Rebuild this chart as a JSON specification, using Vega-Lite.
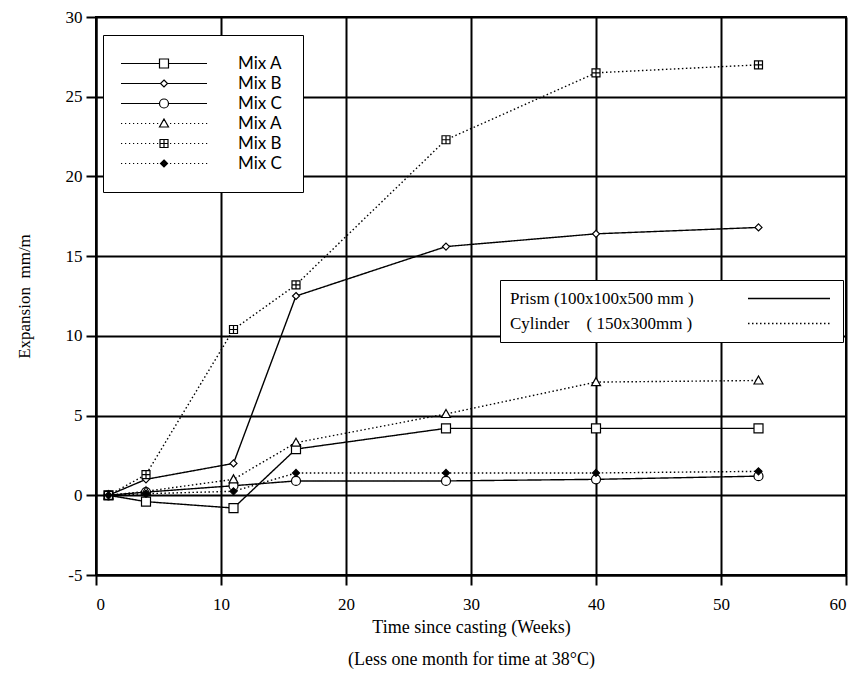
{
  "$schema": "https://vega.github.io/schema/vega-lite/v6.json",
  "autosize": "none",
  "width": 750,
  "height": 558,
  "padding": {"left": 96, "top": 17, "right": 14, "bottom": 101},
  "background": "white",
  "config": {
    "view": {"stroke": "black", "strokeWidth": 2},
    "axis": {
      "domainColor": "black", "domainWidth": 2,
      "gridColor": "black", "gridWidth": 2, "gridOpacity": 1,
      "tickColor": "black", "tickWidth": 2, "tickSize": 10,
      "labelFont": "Liberation Serif", "labelFontSize": 17, "labelColor": "black",
      "titleFont": "Liberation Serif", "titleFontSize": 18, "titleFontWeight": "normal", "titleColor": "black"
    }
  },
  "data": {
    "values": [
      {"week": 1, "exp": 0, "series": "P-A", "type": "Prism"},
      {"week": 4, "exp": -0.4, "series": "P-A", "type": "Prism"},
      {"week": 11, "exp": -0.8, "series": "P-A", "type": "Prism"},
      {"week": 16, "exp": 2.9, "series": "P-A", "type": "Prism"},
      {"week": 28, "exp": 4.2, "series": "P-A", "type": "Prism"},
      {"week": 40, "exp": 4.2, "series": "P-A", "type": "Prism"},
      {"week": 53, "exp": 4.2, "series": "P-A", "type": "Prism"},
      {"week": 1, "exp": 0, "series": "P-B", "type": "Prism"},
      {"week": 4, "exp": 1.0, "series": "P-B", "type": "Prism"},
      {"week": 11, "exp": 2.0, "series": "P-B", "type": "Prism"},
      {"week": 16, "exp": 12.5, "series": "P-B", "type": "Prism"},
      {"week": 28, "exp": 15.6, "series": "P-B", "type": "Prism"},
      {"week": 40, "exp": 16.4, "series": "P-B", "type": "Prism"},
      {"week": 53, "exp": 16.8, "series": "P-B", "type": "Prism"},
      {"week": 1, "exp": 0, "series": "P-C", "type": "Prism"},
      {"week": 4, "exp": 0.2, "series": "P-C", "type": "Prism"},
      {"week": 11, "exp": 0.6, "series": "P-C", "type": "Prism"},
      {"week": 16, "exp": 0.9, "series": "P-C", "type": "Prism"},
      {"week": 28, "exp": 0.9, "series": "P-C", "type": "Prism"},
      {"week": 40, "exp": 1.0, "series": "P-C", "type": "Prism"},
      {"week": 53, "exp": 1.2, "series": "P-C", "type": "Prism"},
      {"week": 1, "exp": 0, "series": "C-A", "type": "Cylinder"},
      {"week": 4, "exp": 0.25, "series": "C-A", "type": "Cylinder"},
      {"week": 11, "exp": 1.0, "series": "C-A", "type": "Cylinder"},
      {"week": 16, "exp": 3.3, "series": "C-A", "type": "Cylinder"},
      {"week": 28, "exp": 5.1, "series": "C-A", "type": "Cylinder"},
      {"week": 40, "exp": 7.1, "series": "C-A", "type": "Cylinder"},
      {"week": 53, "exp": 7.2, "series": "C-A", "type": "Cylinder"},
      {"week": 1, "exp": 0, "series": "C-B", "type": "Cylinder"},
      {"week": 4, "exp": 1.3, "series": "C-B", "type": "Cylinder"},
      {"week": 11, "exp": 10.4, "series": "C-B", "type": "Cylinder"},
      {"week": 16, "exp": 13.2, "series": "C-B", "type": "Cylinder"},
      {"week": 28, "exp": 22.3, "series": "C-B", "type": "Cylinder"},
      {"week": 40, "exp": 26.5, "series": "C-B", "type": "Cylinder"},
      {"week": 53, "exp": 27.0, "series": "C-B", "type": "Cylinder"},
      {"week": 1, "exp": 0, "series": "C-C", "type": "Cylinder"},
      {"week": 4, "exp": 0.1, "series": "C-C", "type": "Cylinder"},
      {"week": 11, "exp": 0.25, "series": "C-C", "type": "Cylinder"},
      {"week": 16, "exp": 1.4, "series": "C-C", "type": "Cylinder"},
      {"week": 28, "exp": 1.4, "series": "C-C", "type": "Cylinder"},
      {"week": 40, "exp": 1.4, "series": "C-C", "type": "Cylinder"},
      {"week": 53, "exp": 1.5, "series": "C-C", "type": "Cylinder"}
    ]
  },
  "encoding": {
    "x": {
      "field": "week", "type": "quantitative",
      "scale": {"domain": [0, 60], "nice": false, "zero": false},
      "axis": {
        "values": [0, 10, 20, 30, 40, 50, 60],
        "labelPadding": 11,
        "title": ["Time since casting (Weeks)", "(Less one month for time at 38°C)"],
        "titleLineHeight": 32,
        "titlePadding": 6
      }
    },
    "y": {
      "field": "exp", "type": "quantitative",
      "scale": {"domain": [-5, 30], "nice": false, "zero": false},
      "axis": {
        "values": [-5, 0, 5, 10, 15, 20, 25, 30],
        "labelExpr": "'' + datum.value",
        "labelPadding": 4,
        "title": "Expansion\u00a0\u00a0mm/m",
        "titleFontSize": 17,
        "titlePadding": 32
      }
    }
  },
  "layer": [
    {
      "mark": {"type": "line", "color": "black", "strokeWidth": 1.4, "strokeCap": "butt"},
      "encoding": {
        "detail": {"field": "series"},
        "strokeDash": {
          "field": "type", "type": "nominal",
          "scale": {"domain": ["Prism", "Cylinder"], "range": [[1, 0], [1.5, 2.5]]},
          "legend": {
            "orient": "none", "legendX": 404, "legendY": 263,
            "title": null,
            "symbolType": "M-41,0H41", "symbolSize": 4, "symbolOffset": 270.5,
            "symbolStrokeColor": "black", "symbolStrokeWidth": 1.3,
            "labelOffset": -287.5, "labelLimit": 400,
            "labelFont": "Liberation Serif", "labelFontSize": 17, "labelColor": "black",
            "labelExpr": "datum.value == 'Prism' ? 'Prism (100x100x500 mm )' : 'Cylinder\u00a0\u00a0\u00a0\u00a0( 150x300mm )'",
            "rowPadding": 7, "padding": 10,
            "strokeColor": "black", "fillColor": "white", "cornerRadius": 0
          }
        }
      }
    },
    {
      "mark": {"type": "point", "size": 4, "stroke": "black", "strokeWidth": 1.2, "opacity": 1},
      "encoding": {
        "shape": {
          "field": "series", "type": "nominal",
          "scale": {
            "domain": ["P-A", "P-B", "P-C", "C-A", "C-B", "C-C"],
            "range": [
              "M-4.5,-4.5H4.5V4.5H-4.5Z",
              "M0,-3.5L3.5,0L0,3.5L-3.5,0Z",
              "M4.5,0A4.5,4.5,0,1,1,-4.5,0A4.5,4.5,0,1,1,4.5,0Z",
              "M0,-4.5L4.5,3.5H-4.5Z",
              "M-4,-4H4V4H-4ZM0,-4V4M-4,0H4",
              "M0,-3.5L3.5,0L0,3.5L-3.5,0Z"
            ]
          },
          "legend": null
        },
        "fill": {"condition": {"test": "datum.series == 'C-C'", "value": "black"}, "value": "white"}
      }
    },
    {
      "transform": [{"filter": "datum.week < 0"}],
      "mark": {"type": "point", "size": 4, "stroke": "black", "strokeWidth": 1.2, "opacity": 1},
      "encoding": {
        "shape": {
          "field": "series", "type": "nominal",
          "scale": {
            "domain": ["P-A", "P-B", "P-C", "C-A", "C-B", "C-C"],
            "range": [
              "M-43,0H-4.5M4.5,0H43M-4.5,-4.5H4.5V4.5H-4.5Z",
              "M-43,0H-3.5M3.5,0H43M0,-3.5L3.5,0L0,3.5L-3.5,0Z",
              "M-43,0H-4.5M4.5,0H43M4.5,0A4.5,4.5,0,1,1,-4.5,0A4.5,4.5,0,1,1,4.5,0Z",
              "M-43,0h1.2m2.8,0h1.2m2.8,0h1.2m2.8,0h1.2m2.8,0h1.2m2.8,0h1.2m2.8,0h1.2m2.8,0h1.2m2.8,0h1.2m2.8,0h1.2M6,0h1.2m2.8,0h1.2m2.8,0h1.2m2.8,0h1.2m2.8,0h1.2m2.8,0h1.2m2.8,0h1.2m2.8,0h1.2m2.8,0h1.2m2.8,0h1.2M0,-4.5L4.5,3.5H-4.5Z",
              "M-43,0h1.2m2.8,0h1.2m2.8,0h1.2m2.8,0h1.2m2.8,0h1.2m2.8,0h1.2m2.8,0h1.2m2.8,0h1.2m2.8,0h1.2m2.8,0h1.2M6,0h1.2m2.8,0h1.2m2.8,0h1.2m2.8,0h1.2m2.8,0h1.2m2.8,0h1.2m2.8,0h1.2m2.8,0h1.2m2.8,0h1.2m2.8,0h1.2M-4,-4H4V4H-4ZM0,-4V4M-4,0H4",
              "M-43,0h1.2m2.8,0h1.2m2.8,0h1.2m2.8,0h1.2m2.8,0h1.2m2.8,0h1.2m2.8,0h1.2m2.8,0h1.2m2.8,0h1.2m2.8,0h1.2M6,0h1.2m2.8,0h1.2m2.8,0h1.2m2.8,0h1.2m2.8,0h1.2m2.8,0h1.2m2.8,0h1.2m2.8,0h1.2m2.8,0h1.2m2.8,0h1.2M0,-3.5L3.5,0L0,3.5L-3.5,0ZM0,-2.3L2.3,0L0,2.3L-2.3,0ZM0,-1.1L1.1,0L0,1.1L-1.1,0Z"
            ]
          },
          "legend": {
            "orient": "none", "legendX": 7, "legendY": 18,
            "title": null,
            "symbolSize": 4, "symbolOffset": 32.5,
            "symbolStrokeColor": "black", "symbolStrokeWidth": 1.2,
            "symbolFillColor": "white",
            "labelOffset": 65.5, "labelLimit": 200,
            "labelFont": "Lato", "labelFontSize": 17, "labelColor": "black",
            "labelExpr": "'Mix ' + slice(datum.value, 2)",
            "rowPadding": 2, "padding": 20,
            "strokeColor": "black", "fillColor": "white", "cornerRadius": 0
          }
        }
      }
    }
  ],
  "resolve": {"scale": {"shape": "independent"}, "legend": {"shape": "independent"}}
}
